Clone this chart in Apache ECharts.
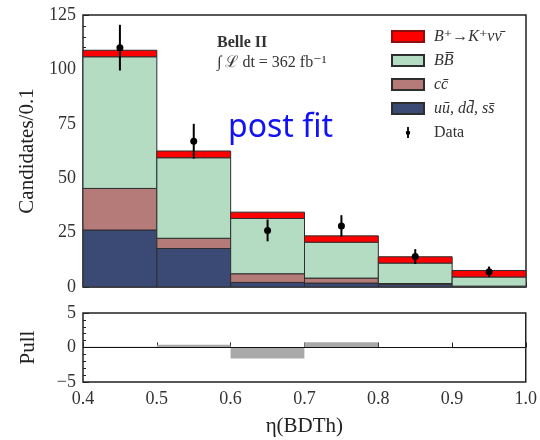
<!DOCTYPE html>
<html>
<head>
<meta charset="utf-8">
<script src="https://cdn.jsdelivr.net/npm/echarts@6/dist/echarts.min.js"></script>
<style>html,body{margin:0;padding:0;background:#fff}#c{width:540px;height:440px}</style>
</head>
<body>
<div id="c"></div>
<script>
// bin edges of eta(BDTh)
const binLo = [0.4, 0.5, 0.6, 0.7, 0.8, 0.9];
const binHi = [0.5, 0.6, 0.7, 0.8, 0.9, 1.0];
// stacked components (per-bin contribution)
const qqbar = [26.2, 17.7, 2.1, 1.8, 1.2, 0.2];   // uu, dd, ss
const ccbar = [19.1, 4.7, 4.0, 2.3, 0.4, 0.2];    // cc
const bbbar = [60.5, 37.0, 25.4, 16.5, 9.4, 4.2]; // BB
const signal = [3.0, 3.1, 2.9, 2.9, 2.9, 3.0];    // B+ -> K+ nu nubar
// data points
const dataX = [0.45, 0.55, 0.65, 0.75, 0.85, 0.95];
const dataY = [110.0, 67.0, 26.0, 28.0, 14.0, 7.0];
const dataErr = [10.5, 8.0, 5.0, 5.0, 3.4, 2.4];
// pulls
const pull = [0.1, 0.4, -1.6, 0.75, 0.0, -0.1];
// tick labels
const mainYTicks = [0, 25, 50, 75, 100, 125];
const pullYTicks = [-5, 0, 5];

const names = ['B\u207A\u2192K\u207A\u03BD\u03BD\u0304', 'BB\u0305', 'cc\u0304', 'uu\u0304, dd\u0304, ss\u0304', 'Data'];
const colors = ['#ff0000', '#b3dcc3', '#b57b78', '#3b4a74'];
const serif = "'Liberation Serif', 'DejaVu Serif', serif";

function stackRows(comp, below) {
  return comp.map((v, i) => {
    const b = below.reduce((s, a) => s + a[i], 0);
    return [binLo[i], binHi[i], b, b + v];
  });
}
function rectItem(params, api) {
  const p0 = api.coord([api.value(0), api.value(2)]);
  const p1 = api.coord([api.value(1), api.value(3)]);
  return {
    type: 'rect',
    shape: {x: p0[0], y: p1[1], width: p1[0] - p0[0], height: p0[1] - p1[1]},
    style: {fill: api.visual('color'), stroke: '#2e2e2e', lineWidth: 1}
  };
}
function pullItem(params, api) {
  const p0 = api.coord([api.value(0), 0]);
  const p1 = api.coord([api.value(1), api.value(2)]);
  return {
    type: 'rect',
    shape: {x: p0[0], y: Math.min(p0[1], p1[1]), width: p1[0] - p0[0], height: Math.abs(p0[1] - p1[1])},
    style: {fill: '#a9a9a9'}
  };
}
function dataItem(params, api) {
  const c = api.coord([api.value(0), api.value(1)]);
  const lo = api.coord([api.value(0), api.value(1) - api.value(2)]);
  const hi = api.coord([api.value(0), api.value(1) + api.value(2)]);
  return {
    type: 'group',
    children: [
      {type: 'line', shape: {x1: c[0], y1: lo[1], x2: c[0], y2: hi[1]}, style: {stroke: '#000', lineWidth: 2}},
      {type: 'circle', shape: {cx: c[0], cy: c[1], r: 3.5}, style: {fill: '#000'}}
    ]
  };
}

const chart = echarts.init(document.getElementById('c'), null, {renderer: 'canvas'});
const minusFmt = v => String(v).replace('-', '\u2212');

const option = {
  animation: false,
  backgroundColor: '#fff',
  grid: [
    {left: 83, right: 14, top: 15, height: 272, show: true, borderColor: '#222', borderWidth: 1.5, backgroundColor: 'transparent'},
    {left: 83, right: 14, top: 313, height: 69, show: true, borderColor: '#222', borderWidth: 1.5, backgroundColor: 'transparent'}
  ],
  xAxis: [
    {type: 'value', gridIndex: 0, min: 0.4, max: 1.0, interval: 0.1,
     axisLine: {show: false}, axisLabel: {show: false},
     axisTick: {show: true, inside: true, length: 5, lineStyle: {color: '#222'}},
     splitLine: {show: false}},
    {type: 'value', gridIndex: 1, min: 0.4, max: 1.0, interval: 0.1,
     axisLine: {show: false},
     axisLabel: {show: true, formatter: v => v.toFixed(1), fontFamily: serif, fontSize: 18, color: '#333', margin: 8},
     axisTick: {show: true, inside: true, length: 5, lineStyle: {color: '#222'}},
     splitLine: {show: false},
     name: '\u03B7(BDTh)', nameLocation: 'middle', nameGap: 34,
     nameTextStyle: {fontFamily: serif, fontSize: 21, color: '#222'}}
  ],
  yAxis: [
    {type: 'value', gridIndex: 0, min: mainYTicks[0], max: mainYTicks[mainYTicks.length - 1], interval: 25,
     axisLine: {show: false},
     axisLabel: {fontFamily: serif, fontSize: 18, color: '#333', margin: 7},
     axisTick: {show: true, inside: true, length: 6, lineStyle: {color: '#222'}},
     minorTick: {show: true, splitNumber: 5, length: 3, lineStyle: {color: '#222'}},
     splitLine: {show: false},
     name: 'Candidates/0.1', nameLocation: 'middle', nameGap: 44,
     nameTextStyle: {fontFamily: serif, fontSize: 21, color: '#222'}},
    {type: 'value', gridIndex: 1, min: pullYTicks[0], max: pullYTicks[pullYTicks.length - 1], interval: 5,
     axisLine: {show: false},
     axisLabel: {fontFamily: serif, fontSize: 18, color: '#333', margin: 7, formatter: minusFmt},
     axisTick: {show: true, inside: true, length: 6, lineStyle: {color: '#222'}},
     minorTick: {show: true, splitNumber: 5, length: 3, lineStyle: {color: '#222'}},
     splitLine: {show: false},
     name: 'Pull', nameLocation: 'middle', nameGap: 44,
     nameTextStyle: {fontFamily: serif, fontSize: 21, color: '#222'}}
  ],
  legend: {
    orient: 'vertical', left: 386, top: 23, itemWidth: 32, itemHeight: 11, itemGap: 7,
    textStyle: {fontFamily: serif, fontSize: 16, fontStyle: 'italic', color: '#333', lineHeight: 17, padding: [0, 0, 0, 5]},
    data: [
      {name: names[0], icon: 'rect'},
      {name: names[1], icon: 'rect'},
      {name: names[2], icon: 'rect'},
      {name: names[3], icon: 'rect'},
      {name: names[4], icon: 'path://M0,0Z M32,11Z M15.1,0 L16.9,0 L16.9,11 L15.1,11 Z M16,3.5 A2.2,2.2 0 1 1 15.99,3.5 Z',
       itemStyle: {color: '#000', borderWidth: 0}, textStyle: {fontStyle: 'normal'}}
    ]
  },
  graphic: [
    {type: 'text', left: 217, top: 35, style: {text: 'Belle II', fontFamily: serif, fontWeight: 'bold', fontSize: 16, fill: '#333'}},
    {type: 'text', left: 217, top: 55, style: {text: '\u222B \u2112 dt = 362 fb\u207B\u00B9', fontFamily: serif, fontSize: 16, fill: '#333'}},
    {type: 'text', left: 228, top: 112, style: {text: 'post fit', fontFamily: "'Noto Sans', 'Open Sans', sans-serif", fontSize: 32, fill: '#1212f5'}}
  ],
  series: [
    {name: names[3], type: 'custom', xAxisIndex: 0, yAxisIndex: 0, renderItem: rectItem,
     itemStyle: {color: colors[3], borderColor: '#2e2e2e', borderWidth: 1},
     encode: {x: [0, 1], y: [2, 3]}, data: stackRows(qqbar, [])},
    {name: names[2], type: 'custom', xAxisIndex: 0, yAxisIndex: 0, renderItem: rectItem,
     itemStyle: {color: colors[2], borderColor: '#2e2e2e', borderWidth: 1},
     encode: {x: [0, 1], y: [2, 3]}, data: stackRows(ccbar, [qqbar])},
    {name: names[1], type: 'custom', xAxisIndex: 0, yAxisIndex: 0, renderItem: rectItem,
     itemStyle: {color: colors[1], borderColor: '#2e2e2e', borderWidth: 1},
     encode: {x: [0, 1], y: [2, 3]}, data: stackRows(bbbar, [qqbar, ccbar])},
    {name: names[0], type: 'custom', xAxisIndex: 0, yAxisIndex: 0, renderItem: rectItem,
     itemStyle: {color: colors[0], borderColor: '#8a1010', borderWidth: 1},
     encode: {x: [0, 1], y: [2, 3]}, data: stackRows(signal, [qqbar, ccbar, bbbar])},
    {name: names[4], type: 'custom', xAxisIndex: 0, yAxisIndex: 0, renderItem: dataItem,
     itemStyle: {color: '#000'},
     encode: {x: 0, y: 1}, data: dataX.map((x, i) => [x, dataY[i], dataErr[i]]), z: 5},
    {name: 'pull', type: 'custom', xAxisIndex: 1, yAxisIndex: 1, renderItem: pullItem,
     encode: {x: [0, 1], y: 2}, data: pull.map((p, i) => [binLo[i], binHi[i], p]),
     markLine: {silent: true, symbol: 'none', label: {show: false},
       lineStyle: {color: '#111', width: 1.2, type: 'solid'}, data: [{yAxis: 0}]}}
  ]
};
chart.setOption(option);
</script>
</body>
</html>
